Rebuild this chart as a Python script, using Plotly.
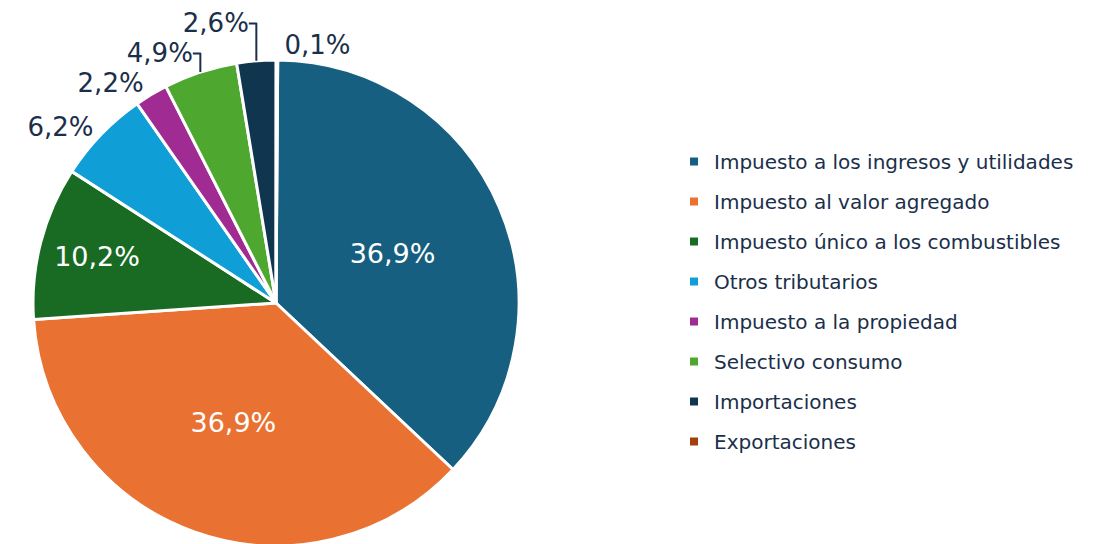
import plotly.graph_objects as go

categories = [
    "Impuesto a los ingresos y utilidades",
    "Impuesto al valor agregado",
    "Impuesto único a los combustibles",
    "Otros tributarios",
    "Impuesto a la propiedad",
    "Selectivo consumo",
    "Importaciones",
    "Exportaciones",
]
shares = [36.9, 36.9, 10.2, 6.2, 2.2, 4.9, 2.6, 0.1]
colors = ["#175F80", "#E97132", "#196B24", "#0F9ED5", "#A02B93", "#4EA72E", "#10364F", "#A3400F"]
text_pos = ["inside", "inside", "inside", "outside", "outside", "outside", "outside", "outside"]

W, H = 1099, 544
TXT = "#1B2F4A"
FONT = "DejaVu Sans"

fig = go.Figure()
fig.add_trace(go.Pie(
    labels=categories,
    values=shares,
    sort=False,
    direction="clockwise",
    rotation=0.4,
    marker=dict(colors=colors, line=dict(color="white", width=3)),
    texttemplate="%{value:.1f}%",
    textposition=text_pos,
    insidetextorientation="horizontal",
    insidetextfont=dict(color="white", size=27, family=FONT),
    outsidetextfont=dict(color=TXT, size=26, family=FONT),
    automargin=False,
    domain=dict(x=[25 / W, 511 / W], y=[0, 1 - 46 / H]),
    showlegend=False,
    hoverinfo="label+percent",
))

for i, (name, col) in enumerate(zip(categories, colors)):
    fig.add_trace(go.Scatter(
        x=[None], y=[None], mode="markers", name=name,
        legendgroup=f"g{i}",
        marker=dict(symbol="square", size=8, color=col),
        showlegend=True,
    ))

fig.update_layout(
    width=W, height=H,
    separators=",.",
    margin=dict(l=0, r=0, t=0, b=0, autoexpand=False),
    paper_bgcolor="white",
    plot_bgcolor="white",
    xaxis=dict(visible=False),
    yaxis=dict(visible=False),
    legend=dict(
        x=666 / W, y=1 - 134 / H, xanchor="left", yanchor="top",
        font=dict(family=FONT, size=20, color=TXT),
        tracegroupgap=11,
        itemwidth=30,
        bgcolor="rgba(0,0,0,0)",
    ),
)

fig.write_html("out.html")
